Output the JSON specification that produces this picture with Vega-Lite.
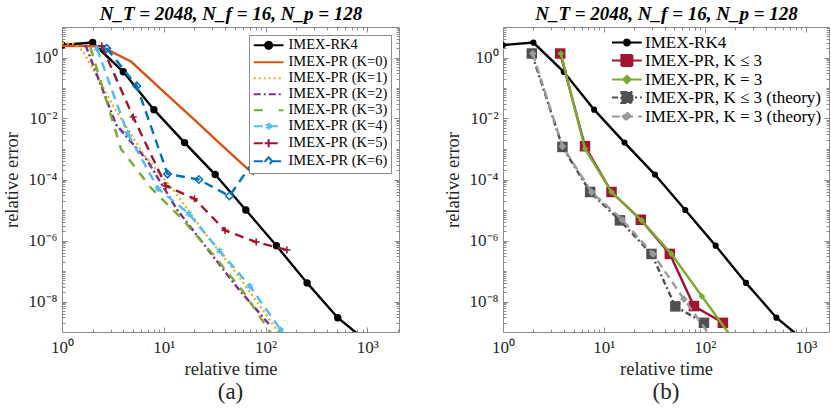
{
  "$schema": "https://vega.github.io/schema/vega-lite/v6.json",
  "padding": {"left": 1, "top": 4, "right": 0, "bottom": 0},
  "spacing": 42,
  "config": {
    "view": {"stroke": "#8c8c8c"},
    "axis": {"grid": false, "domain": false, "tickColor": "#8c8c8c", "labelFlush": false, "labelOverlap": false, "labelFont": "Liberation Serif", "labelFontSize": 17, "labelColor": "#262626", "titleFont": "Liberation Serif", "titleFontSize": 18.5, "titleFontWeight": "normal", "titleColor": "#262626", "minExtent": 0},
    "legend": {"labelFont": "Liberation Serif", "labelFontSize": 14.5, "labelColor": "#000000", "labelLimit": 300, "symbolSize": 100, "symbolStrokeWidth": 2, "rowPadding": 0},
    "title": {"font": "Liberation Serif", "fontSize": 23, "fontWeight": "normal", "color": "#262626"}
  },
  "datasets": {
    "left": [
      {"s": "IMEX-RK4", "x": 1, "y": 2.57}, {"s": "IMEX-RK4", "x": 2, "y": 3.09}, {"s": "IMEX-RK4", "x": 4, "y": 0.339}, {"s": "IMEX-RK4", "x": 8, "y": 0.0195}, {"s": "IMEX-RK4", "x": 16, "y": 0.00162}, {"s": "IMEX-RK4", "x": 32, "y": 0.000145}, {"s": "IMEX-RK4", "x": 64, "y": 1.0e-5}, {"s": "IMEX-RK4", "x": 128, "y": 6.76e-7}, {"s": "IMEX-RK4", "x": 256, "y": 4.07e-8}, {"s": "IMEX-RK4", "x": 512, "y": 2.95e-9}, {"s": "IMEX-RK4", "x": 1024, "y": 4.47e-10},
      {"s": "IMEX-PR (K=0)", "x": 1, "y": 2.4}, {"s": "IMEX-PR (K=0)", "x": 2.4, "y": 2.34}, {"s": "IMEX-PR (K=0)", "x": 4.8, "y": 0.724}, {"s": "IMEX-PR (K=0)", "x": 9.6, "y": 0.0851}, {"s": "IMEX-PR (K=0)", "x": 19.2, "y": 0.0102}, {"s": "IMEX-PR (K=0)", "x": 38.4, "y": 0.0012}, {"s": "IMEX-PR (K=0)", "x": 77, "y": 0.000145},
      {"s": "IMEX-PR (K=1)", "x": 1, "y": 2.95}, {"s": "IMEX-PR (K=1)", "x": 1.3, "y": 2.82}, {"s": "IMEX-PR (K=1)", "x": 1.6, "y": 1.66}, {"s": "IMEX-PR (K=1)", "x": 3.2, "y": 0.0251}, {"s": "IMEX-PR (K=1)", "x": 6.4, "y": 0.000631}, {"s": "IMEX-PR (K=1)", "x": 12.8, "y": 3.98e-5}, {"s": "IMEX-PR (K=1)", "x": 25.6, "y": 1.66e-6}, {"s": "IMEX-PR (K=1)", "x": 51.2, "y": 8.91e-8}, {"s": "IMEX-PR (K=1)", "x": 102.4, "y": 3.55e-9}, {"s": "IMEX-PR (K=1)", "x": 204.8, "y": 1.12e-10},
      {"s": "IMEX-PR (K=2)", "x": 1.7, "y": 2.57}, {"s": "IMEX-PR (K=2)", "x": 3.4, "y": 0.00631}, {"s": "IMEX-PR (K=2)", "x": 6.8, "y": 0.000447}, {"s": "IMEX-PR (K=2)", "x": 13.6, "y": 1.0e-5}, {"s": "IMEX-PR (K=2)", "x": 27.2, "y": 5.01e-7}, {"s": "IMEX-PR (K=2)", "x": 54.4, "y": 2.51e-8}, {"s": "IMEX-PR (K=2)", "x": 108.8, "y": 1.78e-9},
      {"s": "IMEX-PR (K=3)", "x": 1.9, "y": 2.14}, {"s": "IMEX-PR (K=3)", "x": 3.8, "y": 0.001}, {"s": "IMEX-PR (K=3)", "x": 7.6, "y": 5.01e-5}, {"s": "IMEX-PR (K=3)", "x": 15.2, "y": 5.01e-6}, {"s": "IMEX-PR (K=3)", "x": 30.4, "y": 3.55e-7}, {"s": "IMEX-PR (K=3)", "x": 60.8, "y": 2.0e-8}, {"s": "IMEX-PR (K=3)", "x": 121.6, "y": 6.31e-10},
      {"s": "IMEX-PR (K=4)", "x": 2.2, "y": 2.0}, {"s": "IMEX-PR (K=4)", "x": 4.4, "y": 0.00331}, {"s": "IMEX-PR (K=4)", "x": 8.8, "y": 5.01e-5}, {"s": "IMEX-PR (K=4)", "x": 17.6, "y": 7.59e-6}, {"s": "IMEX-PR (K=4)", "x": 35.2, "y": 4.68e-7}, {"s": "IMEX-PR (K=4)", "x": 70.4, "y": 3.16e-8}, {"s": "IMEX-PR (K=4)", "x": 140.8, "y": 1.17e-9},
      {"s": "IMEX-PR (K=5)", "x": 2.46, "y": 2.4}, {"s": "IMEX-PR (K=5)", "x": 5.0, "y": 0.0112}, {"s": "IMEX-PR (K=5)", "x": 10.5, "y": 6.17e-5}, {"s": "IMEX-PR (K=5)", "x": 20, "y": 2.34e-5}, {"s": "IMEX-PR (K=5)", "x": 40, "y": 2.14e-6}, {"s": "IMEX-PR (K=5)", "x": 81, "y": 8.91e-7}, {"s": "IMEX-PR (K=5)", "x": 162, "y": 4.9e-7},
      {"s": "IMEX-PR (K=6)", "x": 2.75, "y": 2.0}, {"s": "IMEX-PR (K=6)", "x": 5.43, "y": 0.117}, {"s": "IMEX-PR (K=6)", "x": 10.9, "y": 0.000151}, {"s": "IMEX-PR (K=6)", "x": 22.1, "y": 0.0001}, {"s": "IMEX-PR (K=6)", "x": 44.2, "y": 2.88e-5}, {"s": "IMEX-PR (K=6)", "x": 88, "y": 0.00079}
    ],
    "right": [
      {"s": "IMEX-RK4", "x": 1, "y": 2.57}, {"s": "IMEX-RK4", "x": 2, "y": 3.09}, {"s": "IMEX-RK4", "x": 4, "y": 0.339}, {"s": "IMEX-RK4", "x": 8, "y": 0.0195}, {"s": "IMEX-RK4", "x": 16, "y": 0.00162}, {"s": "IMEX-RK4", "x": 32, "y": 0.000145}, {"s": "IMEX-RK4", "x": 64, "y": 1.0e-5}, {"s": "IMEX-RK4", "x": 128, "y": 6.76e-7}, {"s": "IMEX-RK4", "x": 256, "y": 4.07e-8}, {"s": "IMEX-RK4", "x": 512, "y": 2.95e-9}, {"s": "IMEX-RK4", "x": 1024, "y": 4.47e-10},
      {"s": "IMEX-PR, K ≤ 3", "x": 3.69, "y": 1.35}, {"s": "IMEX-PR, K ≤ 3", "x": 6.5, "y": 0.00123}, {"s": "IMEX-PR, K ≤ 3", "x": 11.9, "y": 3.89e-5}, {"s": "IMEX-PR, K ≤ 3", "x": 23.2, "y": 4.79e-6}, {"s": "IMEX-PR, K ≤ 3", "x": 45, "y": 3.63e-7}, {"s": "IMEX-PR, K ≤ 3", "x": 78, "y": 7.08e-9}, {"s": "IMEX-PR, K ≤ 3", "x": 151, "y": 2.0e-9},
      {"s": "IMEX-PR, K = 3", "x": 3.74, "y": 1.35}, {"s": "IMEX-PR, K = 3", "x": 6.5, "y": 0.00102}, {"s": "IMEX-PR, K = 3", "x": 11.9, "y": 3.89e-5}, {"s": "IMEX-PR, K = 3", "x": 23.6, "y": 4.57e-6}, {"s": "IMEX-PR, K = 3", "x": 46.6, "y": 3.63e-7}, {"s": "IMEX-PR, K = 3", "x": 93.5, "y": 1.48e-8}, {"s": "IMEX-PR, K = 3", "x": 187, "y": 6.3e-10},
      {"s": "IMEX-PR, K ≤ 3 (theory)", "x": 1.93, "y": 1.35}, {"s": "IMEX-PR, K ≤ 3 (theory)", "x": 3.88, "y": 0.00117}, {"s": "IMEX-PR, K ≤ 3 (theory)", "x": 7.3, "y": 3.89e-5}, {"s": "IMEX-PR, K ≤ 3 (theory)", "x": 14.4, "y": 4.57e-6}, {"s": "IMEX-PR, K ≤ 3 (theory)", "x": 29.6, "y": 3.63e-7}, {"s": "IMEX-PR, K ≤ 3 (theory)", "x": 51, "y": 6.92e-9}, {"s": "IMEX-PR, K ≤ 3 (theory)", "x": 98, "y": 2.0e-9},
      {"s": "IMEX-PR, K = 3 (theory)", "x": 1.97, "y": 1.35}, {"s": "IMEX-PR, K = 3 (theory)", "x": 3.88, "y": 0.00123}, {"s": "IMEX-PR, K = 3 (theory)", "x": 7.55, "y": 3.89e-5}, {"s": "IMEX-PR, K = 3 (theory)", "x": 15.2, "y": 4.79e-6}, {"s": "IMEX-PR, K = 3 (theory)", "x": 30.6, "y": 3.63e-7}, {"s": "IMEX-PR, K = 3 (theory)", "x": 62, "y": 1.2e-8}, {"s": "IMEX-PR, K = 3 (theory)", "x": 124, "y": 5.0e-10}
    ]
  },
  "resolve": {"scale": {"x": "independent", "y": "independent", "stroke": "independent", "fill": "independent", "shape": "independent", "strokeDash": "independent"}},
  "hconcat": [
    {
      "width": 337, "height": 305,
      "data": {"name": "left"},
      "title": {"text": "(a)", "orient": "bottom", "frame": "group", "offset": 3},
      "resolve": {"axis": {"x": "independent", "y": "independent"}},
      "layer": [
        {
          "transform": [{"filter": "datum.s == 'IMEX-RK4'"}],
          "mark": {"type": "line", "color": "#000000", "strokeWidth": 2.4, "clip": true},
          "encoding": {
            "x": {"field": "x", "type": "quantitative", "scale": {"type": "log", "domain": [1, 2048], "nice": false}, "axis": {"orient": "bottom", "values": [1, 10, 100, 1000], "labelExpr": "datum.value == 1 ? '10⁰' : datum.value == 10 ? '10¹' : datum.value == 100 ? '10²' : '10³'", "tickSize": -5, "labelPadding": 12, "title": "relative time", "titlePadding": 4}},
            "y": {"field": "y", "type": "quantitative", "scale": {"type": "log", "domain": [1e-9, 10], "nice": false}, "axis": {"orient": "left", "values": [1e-8, 1e-6, 0.0001, 0.01, 1], "labelExpr": "datum.value == 1 ? '10⁰' : datum.value == 0.01 ? '10⁻²' : datum.value == 0.0001 ? '10⁻⁴' : datum.value == 0.000001 ? '10⁻⁶' : '10⁻⁸'", "tickSize": -5, "labelPadding": 10, "title": "relative error", "titlePadding": 7}}
          }
        },
        {
          "transform": [{"filter": "datum.s == 'IMEX-RK4'"}],
          "mark": {"type": "point", "shape": "circle", "filled": true, "color": "#000000", "size": 55, "opacity": 1, "clip": true},
          "encoding": {
            "x": {"field": "x", "type": "quantitative", "scale": {"type": "log", "domain": [1, 2048], "nice": false}, "axis": {"orient": "bottom", "values": [2, 3, 4, 5, 6, 7, 8, 9, 20, 30, 40, 50, 60, 70, 80, 90, 200, 300, 400, 500, 600, 700, 800, 900, 2000], "labels": false, "tickSize": -3, "title": null}},
            "y": {"field": "y", "type": "quantitative", "scale": {"type": "log", "domain": [1e-9, 10], "nice": false}, "axis": {"orient": "left", "values": [2e-9, 3e-9, 4e-9, 5e-9, 6e-9, 7e-9, 8e-9, 9e-9, 2e-8, 3e-8, 4e-8, 5e-8, 6e-8, 7e-8, 8e-8, 9e-8, 1e-7, 2e-7, 3e-7, 4e-7, 5e-7, 6e-7, 7e-7, 8e-7, 9e-7, 2e-6, 3e-6, 4e-6, 5e-6, 6e-6, 7e-6, 8e-6, 9e-6, 1e-5, 2e-5, 3e-5, 4e-5, 5e-5, 6e-5, 7e-5, 8e-5, 9e-5, 2e-4, 3e-4, 4e-4, 5e-4, 6e-4, 7e-4, 8e-4, 9e-4, 1e-3, 2e-3, 3e-3, 4e-3, 5e-3, 6e-3, 7e-3, 8e-3, 9e-3, 0.02, 0.03, 0.04, 0.05, 0.06, 0.07, 0.08, 0.09, 0.1, 0.2, 0.3, 0.4, 0.5, 0.6, 0.7, 0.8, 0.9, 2, 3, 4, 5, 6, 7, 8, 9], "labels": false, "tickSize": -3, "title": null}}
          }
        },
        {
          "transform": [{"filter": "datum.s == 'IMEX-PR (K=0)'"}],
          "mark": {"type": "line", "color": "#D95319", "strokeWidth": 2.4, "clip": true},
          "encoding": {
            "x": {"field": "x", "type": "quantitative", "scale": {"type": "log", "domain": [1, 2048], "nice": false}, "axis": {"orient": "top", "values": [1, 10, 100, 1000], "labels": false, "tickSize": -5, "title": "N_T = 2048, N_f = 16, N_p = 128", "titleFontSize": 19, "titleFontWeight": "bold", "titleFontStyle": "italic", "titleColor": "#000000", "titlePadding": 3}},
            "y": {"field": "y", "type": "quantitative", "scale": {"type": "log", "domain": [1e-9, 10], "nice": false}, "axis": {"orient": "right", "values": [1e-8, 1e-6, 0.0001, 0.01, 1], "labels": false, "tickSize": -5, "title": null}}
          }
        },
        {
          "transform": [{"filter": "datum.s == 'IMEX-PR (K=1)'"}],
          "mark": {"type": "line", "color": "#EDB120", "strokeWidth": 2.4, "strokeDash": [2, 3], "clip": true},
          "encoding": {
            "x": {"field": "x", "type": "quantitative", "scale": {"type": "log", "domain": [1, 2048], "nice": false}, "axis": {"orient": "top", "values": [2, 3, 4, 5, 6, 7, 8, 9, 20, 30, 40, 50, 60, 70, 80, 90, 200, 300, 400, 500, 600, 700, 800, 900, 2000], "labels": false, "tickSize": -3, "title": null}},
            "y": {"field": "y", "type": "quantitative", "scale": {"type": "log", "domain": [1e-9, 10], "nice": false}, "axis": {"orient": "right", "values": [2e-9, 3e-9, 4e-9, 5e-9, 6e-9, 7e-9, 8e-9, 9e-9, 2e-8, 3e-8, 4e-8, 5e-8, 6e-8, 7e-8, 8e-8, 9e-8, 1e-7, 2e-7, 3e-7, 4e-7, 5e-7, 6e-7, 7e-7, 8e-7, 9e-7, 2e-6, 3e-6, 4e-6, 5e-6, 6e-6, 7e-6, 8e-6, 9e-6, 1e-5, 2e-5, 3e-5, 4e-5, 5e-5, 6e-5, 7e-5, 8e-5, 9e-5, 2e-4, 3e-4, 4e-4, 5e-4, 6e-4, 7e-4, 8e-4, 9e-4, 1e-3, 2e-3, 3e-3, 4e-3, 5e-3, 6e-3, 7e-3, 8e-3, 9e-3, 0.02, 0.03, 0.04, 0.05, 0.06, 0.07, 0.08, 0.09, 0.1, 0.2, 0.3, 0.4, 0.5, 0.6, 0.7, 0.8, 0.9, 2, 3, 4, 5, 6, 7, 8, 9], "labels": false, "tickSize": -3, "title": null}}
          }
        },
        {
          "transform": [{"filter": "datum.s == 'IMEX-PR (K=2)'"}],
          "mark": {"type": "line", "color": "#7E2F8E", "strokeWidth": 2.4, "strokeDash": [7, 3, 2, 3], "clip": true},
          "encoding": {
            "x": {"field": "x", "type": "quantitative", "scale": {"type": "log", "domain": [1, 2048], "nice": false}, "axis": null},
            "y": {"field": "y", "type": "quantitative", "scale": {"type": "log", "domain": [1e-9, 10], "nice": false}, "axis": null}
          }
        },
        {
          "transform": [{"filter": "datum.s == 'IMEX-PR (K=3)'"}],
          "mark": {"type": "line", "color": "#77AC30", "strokeWidth": 2.4, "strokeDash": [9, 8], "clip": true},
          "encoding": {
            "x": {"field": "x", "type": "quantitative", "scale": {"type": "log", "domain": [1, 2048], "nice": false}, "axis": null},
            "y": {"field": "y", "type": "quantitative", "scale": {"type": "log", "domain": [1e-9, 10], "nice": false}, "axis": null}
          }
        },
        {
          "transform": [{"filter": "datum.s == 'IMEX-PR (K=4)'"}],
          "mark": {"type": "line", "color": "#4DBEEE", "strokeWidth": 2.4, "strokeDash": [9, 6], "clip": true},
          "encoding": {
            "x": {"field": "x", "type": "quantitative", "scale": {"type": "log", "domain": [1, 2048], "nice": false}, "axis": null},
            "y": {"field": "y", "type": "quantitative", "scale": {"type": "log", "domain": [1e-9, 10], "nice": false}, "axis": null}
          }
        },
        {
          "transform": [{"filter": "datum.s == 'IMEX-PR (K=4)'"}],
          "mark": {"type": "point", "shape": "M0,-1V1M-0.87,-0.5L0.87,0.5M-0.87,0.5L0.87,-0.5", "filled": false, "color": "#4DBEEE", "size": 45, "strokeWidth": 1.6, "opacity": 1, "clip": true},
          "encoding": {
            "x": {"field": "x", "type": "quantitative", "scale": {"type": "log", "domain": [1, 2048], "nice": false}, "axis": null},
            "y": {"field": "y", "type": "quantitative", "scale": {"type": "log", "domain": [1e-9, 10], "nice": false}, "axis": null}
          }
        },
        {
          "transform": [{"filter": "datum.s == 'IMEX-PR (K=5)'"}],
          "mark": {"type": "line", "color": "#A2142F", "strokeWidth": 2.4, "strokeDash": [9, 6], "clip": true},
          "encoding": {
            "x": {"field": "x", "type": "quantitative", "scale": {"type": "log", "domain": [1, 2048], "nice": false}, "axis": null},
            "y": {"field": "y", "type": "quantitative", "scale": {"type": "log", "domain": [1e-9, 10], "nice": false}, "axis": null}
          }
        },
        {
          "transform": [{"filter": "datum.s == 'IMEX-PR (K=5)'"}],
          "mark": {"type": "point", "shape": "M0,-1V1M-1,0H1", "filled": false, "color": "#A2142F", "size": 50, "strokeWidth": 1.6, "opacity": 1, "clip": true},
          "encoding": {
            "x": {"field": "x", "type": "quantitative", "scale": {"type": "log", "domain": [1, 2048], "nice": false}, "axis": null},
            "y": {"field": "y", "type": "quantitative", "scale": {"type": "log", "domain": [1e-9, 10], "nice": false}, "axis": null}
          }
        },
        {
          "transform": [{"filter": "datum.s == 'IMEX-PR (K=6)'"}],
          "mark": {"type": "line", "color": "#0072BD", "strokeWidth": 2.4, "strokeDash": [9, 6], "clip": true},
          "encoding": {
            "x": {"field": "x", "type": "quantitative", "scale": {"type": "log", "domain": [1, 2048], "nice": false}, "axis": null},
            "y": {"field": "y", "type": "quantitative", "scale": {"type": "log", "domain": [1e-9, 10], "nice": false}, "axis": null}
          }
        },
        {
          "transform": [{"filter": "datum.s == 'IMEX-PR (K=6)'"}],
          "mark": {"type": "point", "shape": "diamond", "filled": false, "color": "#0072BD", "size": 55, "strokeWidth": 1.6, "opacity": 1, "clip": true},
          "encoding": {
            "x": {"field": "x", "type": "quantitative", "scale": {"type": "log", "domain": [1, 2048], "nice": false}, "axis": null},
            "y": {"field": "y", "type": "quantitative", "scale": {"type": "log", "domain": [1e-9, 10], "nice": false}, "axis": null}
          }
        },
        {
          "transform": [{"filter": "false"}],
          "mark": {"type": "point", "filled": true, "strokeWidth": 2, "size": 100, "opacity": 1},
          "encoding": {
            "x": {"field": "x", "type": "quantitative", "scale": {"type": "log", "domain": [1, 2048], "nice": false}, "axis": null},
            "y": {"field": "y", "type": "quantitative", "scale": {"type": "log", "domain": [1e-9, 10], "nice": false}, "axis": null},
            "stroke": {"field": "s", "type": "nominal",
              "scale": {"domain": ["IMEX-RK4", "IMEX-PR (K=0)", "IMEX-PR (K=1)", "IMEX-PR (K=2)", "IMEX-PR (K=3)", "IMEX-PR (K=4)", "IMEX-PR (K=5)", "IMEX-PR (K=6)"], "range": ["#000000", "#D95319", "#EDB120", "#7E2F8E", "#77AC30", "#4DBEEE", "#A2142F", "#0072BD"]},
              "legend": {"title": null, "orient": "top-right", "offset": 8, "padding": 3, "strokeColor": "#8c8c8c", "fillColor": "#ffffff", "labelOffset": 22, "rowPadding": 1, "symbolOpacity": 1}},
            "fill": {"field": "s", "type": "nominal",
              "scale": {"domain": ["IMEX-RK4", "IMEX-PR (K=0)", "IMEX-PR (K=1)", "IMEX-PR (K=2)", "IMEX-PR (K=3)", "IMEX-PR (K=4)", "IMEX-PR (K=5)", "IMEX-PR (K=6)"], "range": ["#000000", "transparent", "transparent", "transparent", "transparent", "transparent", "transparent", "#ffffff"]}},
            "shape": {"field": "s", "type": "nominal",
              "scale": {"domain": ["IMEX-RK4", "IMEX-PR (K=0)", "IMEX-PR (K=1)", "IMEX-PR (K=2)", "IMEX-PR (K=3)", "IMEX-PR (K=4)", "IMEX-PR (K=5)", "IMEX-PR (K=6)"], "range": ["M-1.1,0H4.86M1.18,0A0.7,0.7 0 1,0 2.58,0A0.7,0.7 0 1,0 1.18,0", "M-1.1,0H4.86", "M-1.1,0H4.86", "M-1.1,0H4.86", "M-1.1,0H4.86", "M-1.1,0H4.86M1.88,-0.7V0.7M1.27,-0.35L2.49,0.35M1.27,0.35L2.49,-0.35", "M-1.1,0H4.86M1.88,-0.8V0.8M1.08,0H2.68", "M-1.1,0H1.18M2.58,0H4.86M1.88,-0.8L2.58,0L1.88,0.8L1.18,0Z"]}},
            "strokeDash": {"field": "s", "type": "nominal",
              "scale": {"domain": ["IMEX-RK4", "IMEX-PR (K=0)", "IMEX-PR (K=1)", "IMEX-PR (K=2)", "IMEX-PR (K=3)", "IMEX-PR (K=4)", "IMEX-PR (K=5)", "IMEX-PR (K=6)"], "range": [[1, 0], [1, 0], [2, 3], [7, 3, 2, 3], [9, 16], [9, 6], [9, 6], [9, 6]]}}
          }
        }
      ]
    },
    {
      "width": 326, "height": 305,
      "data": {"name": "right"},
      "title": {"text": "(b)", "orient": "bottom", "frame": "group", "offset": 3},
      "resolve": {"axis": {"x": "independent", "y": "independent"}},
      "layer": [
        {
          "transform": [{"filter": "datum.s == 'IMEX-RK4'"}],
          "mark": {"type": "line", "color": "#000000", "strokeWidth": 2.4, "clip": true},
          "encoding": {
            "x": {"field": "x", "type": "quantitative", "scale": {"type": "log", "domain": [1, 1700], "nice": false}, "axis": {"orient": "bottom", "values": [1, 10, 100, 1000], "labelExpr": "datum.value == 1 ? '10⁰' : datum.value == 10 ? '10¹' : datum.value == 100 ? '10²' : '10³'", "tickSize": -5, "labelPadding": 12, "title": "relative time", "titlePadding": 4}},
            "y": {"field": "y", "type": "quantitative", "scale": {"type": "log", "domain": [1e-9, 10], "nice": false}, "axis": {"orient": "left", "values": [1e-8, 1e-6, 0.0001, 0.01, 1], "labelExpr": "datum.value == 1 ? '10⁰' : datum.value == 0.01 ? '10⁻²' : datum.value == 0.0001 ? '10⁻⁴' : datum.value == 0.000001 ? '10⁻⁶' : '10⁻⁸'", "tickSize": -5, "labelPadding": 10, "title": "relative error", "titlePadding": 7}}
          }
        },
        {
          "transform": [{"filter": "datum.s == 'IMEX-RK4'"}],
          "mark": {"type": "point", "shape": "circle", "filled": true, "color": "#000000", "size": 38, "opacity": 1, "clip": true},
          "encoding": {
            "x": {"field": "x", "type": "quantitative", "scale": {"type": "log", "domain": [1, 1700], "nice": false}, "axis": {"orient": "bottom", "values": [2, 3, 4, 5, 6, 7, 8, 9, 20, 30, 40, 50, 60, 70, 80, 90, 200, 300, 400, 500, 600, 700, 800, 900], "labels": false, "tickSize": -3, "title": null}},
            "y": {"field": "y", "type": "quantitative", "scale": {"type": "log", "domain": [1e-9, 10], "nice": false}, "axis": {"orient": "left", "values": [2e-9, 3e-9, 4e-9, 5e-9, 6e-9, 7e-9, 8e-9, 9e-9, 2e-8, 3e-8, 4e-8, 5e-8, 6e-8, 7e-8, 8e-8, 9e-8, 1e-7, 2e-7, 3e-7, 4e-7, 5e-7, 6e-7, 7e-7, 8e-7, 9e-7, 2e-6, 3e-6, 4e-6, 5e-6, 6e-6, 7e-6, 8e-6, 9e-6, 1e-5, 2e-5, 3e-5, 4e-5, 5e-5, 6e-5, 7e-5, 8e-5, 9e-5, 2e-4, 3e-4, 4e-4, 5e-4, 6e-4, 7e-4, 8e-4, 9e-4, 1e-3, 2e-3, 3e-3, 4e-3, 5e-3, 6e-3, 7e-3, 8e-3, 9e-3, 0.02, 0.03, 0.04, 0.05, 0.06, 0.07, 0.08, 0.09, 0.1, 0.2, 0.3, 0.4, 0.5, 0.6, 0.7, 0.8, 0.9, 2, 3, 4, 5, 6, 7, 8, 9], "labels": false, "tickSize": -3, "title": null}}
          }
        },
        {
          "transform": [{"filter": "datum.s == 'IMEX-PR, K ≤ 3'"}],
          "mark": {"type": "line", "color": "#A2142F", "strokeWidth": 2.4, "clip": true},
          "encoding": {
            "x": {"field": "x", "type": "quantitative", "scale": {"type": "log", "domain": [1, 1700], "nice": false}, "axis": {"orient": "top", "values": [1, 10, 100, 1000], "labels": false, "tickSize": -5, "title": "N_T = 2048, N_f = 16, N_p = 128", "titleFontSize": 19, "titleFontWeight": "bold", "titleFontStyle": "italic", "titleColor": "#000000", "titlePadding": 3}},
            "y": {"field": "y", "type": "quantitative", "scale": {"type": "log", "domain": [1e-9, 10], "nice": false}, "axis": {"orient": "right", "values": [1e-8, 1e-6, 0.0001, 0.01, 1], "labels": false, "tickSize": -5, "title": null}}
          }
        },
        {
          "transform": [{"filter": "datum.s == 'IMEX-PR, K ≤ 3'"}],
          "mark": {"type": "point", "shape": "square", "filled": true, "color": "#A2142F", "size": 110, "opacity": 1, "clip": true},
          "encoding": {
            "x": {"field": "x", "type": "quantitative", "scale": {"type": "log", "domain": [1, 1700], "nice": false}, "axis": {"orient": "top", "values": [2, 3, 4, 5, 6, 7, 8, 9, 20, 30, 40, 50, 60, 70, 80, 90, 200, 300, 400, 500, 600, 700, 800, 900], "labels": false, "tickSize": -3, "title": null}},
            "y": {"field": "y", "type": "quantitative", "scale": {"type": "log", "domain": [1e-9, 10], "nice": false}, "axis": {"orient": "right", "values": [2e-9, 3e-9, 4e-9, 5e-9, 6e-9, 7e-9, 8e-9, 9e-9, 2e-8, 3e-8, 4e-8, 5e-8, 6e-8, 7e-8, 8e-8, 9e-8, 1e-7, 2e-7, 3e-7, 4e-7, 5e-7, 6e-7, 7e-7, 8e-7, 9e-7, 2e-6, 3e-6, 4e-6, 5e-6, 6e-6, 7e-6, 8e-6, 9e-6, 1e-5, 2e-5, 3e-5, 4e-5, 5e-5, 6e-5, 7e-5, 8e-5, 9e-5, 2e-4, 3e-4, 4e-4, 5e-4, 6e-4, 7e-4, 8e-4, 9e-4, 1e-3, 2e-3, 3e-3, 4e-3, 5e-3, 6e-3, 7e-3, 8e-3, 9e-3, 0.02, 0.03, 0.04, 0.05, 0.06, 0.07, 0.08, 0.09, 0.1, 0.2, 0.3, 0.4, 0.5, 0.6, 0.7, 0.8, 0.9, 2, 3, 4, 5, 6, 7, 8, 9], "labels": false, "tickSize": -3, "title": null}}
          }
        },
        {
          "transform": [{"filter": "datum.s == 'IMEX-PR, K = 3'"}],
          "mark": {"type": "line", "color": "#77AC30", "strokeWidth": 2.4, "clip": true},
          "encoding": {
            "x": {"field": "x", "type": "quantitative", "scale": {"type": "log", "domain": [1, 1700], "nice": false}, "axis": null},
            "y": {"field": "y", "type": "quantitative", "scale": {"type": "log", "domain": [1e-9, 10], "nice": false}, "axis": null}
          }
        },
        {
          "transform": [{"filter": "datum.s == 'IMEX-PR, K = 3'"}],
          "mark": {"type": "point", "shape": "diamond", "filled": true, "color": "#77AC30", "size": 45, "opacity": 1, "clip": true},
          "encoding": {
            "x": {"field": "x", "type": "quantitative", "scale": {"type": "log", "domain": [1, 1700], "nice": false}, "axis": null},
            "y": {"field": "y", "type": "quantitative", "scale": {"type": "log", "domain": [1e-9, 10], "nice": false}, "axis": null}
          }
        },
        {
          "transform": [{"filter": "datum.s == 'IMEX-PR, K ≤ 3 (theory)'"}],
          "mark": {"type": "line", "color": "#505050", "strokeWidth": 2.4, "strokeDash": [6, 3, 2, 3], "clip": true},
          "encoding": {
            "x": {"field": "x", "type": "quantitative", "scale": {"type": "log", "domain": [1, 1700], "nice": false}, "axis": null},
            "y": {"field": "y", "type": "quantitative", "scale": {"type": "log", "domain": [1e-9, 10], "nice": false}, "axis": null}
          }
        },
        {
          "transform": [{"filter": "datum.s == 'IMEX-PR, K ≤ 3 (theory)'"}],
          "mark": {"type": "point", "shape": "square", "filled": true, "color": "#505050", "size": 110, "opacity": 1, "clip": true},
          "encoding": {
            "x": {"field": "x", "type": "quantitative", "scale": {"type": "log", "domain": [1, 1700], "nice": false}, "axis": null},
            "y": {"field": "y", "type": "quantitative", "scale": {"type": "log", "domain": [1e-9, 10], "nice": false}, "axis": null}
          }
        },
        {
          "transform": [{"filter": "datum.s == 'IMEX-PR, K = 3 (theory)'"}],
          "mark": {"type": "line", "color": "#9a9a9a", "strokeWidth": 2.4, "strokeDash": [8, 5], "clip": true},
          "encoding": {
            "x": {"field": "x", "type": "quantitative", "scale": {"type": "log", "domain": [1, 1700], "nice": false}, "axis": null},
            "y": {"field": "y", "type": "quantitative", "scale": {"type": "log", "domain": [1e-9, 10], "nice": false}, "axis": null}
          }
        },
        {
          "transform": [{"filter": "datum.s == 'IMEX-PR, K = 3 (theory)'"}],
          "mark": {"type": "point", "shape": "diamond", "filled": true, "color": "#9a9a9a", "size": 60, "opacity": 1, "clip": true},
          "encoding": {
            "x": {"field": "x", "type": "quantitative", "scale": {"type": "log", "domain": [1, 1700], "nice": false}, "axis": null},
            "y": {"field": "y", "type": "quantitative", "scale": {"type": "log", "domain": [1e-9, 10], "nice": false}, "axis": null}
          }
        },
        {
          "transform": [{"filter": "false"}],
          "mark": {"type": "point", "filled": true, "strokeWidth": 2, "size": 100, "opacity": 1},
          "encoding": {
            "x": {"field": "x", "type": "quantitative", "scale": {"type": "log", "domain": [1, 1700], "nice": false}, "axis": null},
            "y": {"field": "y", "type": "quantitative", "scale": {"type": "log", "domain": [1e-9, 10], "nice": false}, "axis": null},
            "stroke": {"field": "s", "type": "nominal",
              "scale": {"domain": ["IMEX-RK4", "IMEX-PR, K ≤ 3", "IMEX-PR, K = 3", "IMEX-PR, K ≤ 3 (theory)", "IMEX-PR, K = 3 (theory)"], "range": ["#000000", "#A2142F", "#77AC30", "#505050", "#9a9a9a"]},
              "legend": {"title": null, "orient": "top-right", "offset": 0, "padding": 7, "labelOffset": 19, "rowPadding": 0, "labelFontSize": 17, "labelLimit": 300, "symbolOpacity": 1}},
            "fill": {"field": "s", "type": "nominal",
              "scale": {"domain": ["IMEX-RK4", "IMEX-PR, K ≤ 3", "IMEX-PR, K = 3", "IMEX-PR, K ≤ 3 (theory)", "IMEX-PR, K = 3 (theory)"], "range": ["#000000", "#A2142F", "#77AC30", "#505050", "#9a9a9a"]}},
            "shape": {"field": "s", "type": "nominal",
              "scale": {"domain": ["IMEX-RK4", "IMEX-PR, K ≤ 3", "IMEX-PR, K = 3", "IMEX-PR, K ≤ 3 (theory)", "IMEX-PR, K = 3 (theory)"], "range": ["M-1.1,0H4.86M1.28,0A0.6,0.6 0 1,0 2.48,0A0.6,0.6 0 1,0 1.28,0", "M-1.1,0H4.86M0.78,-1.1H2.98V1.1H0.78Z", "M-1.1,0H4.86M1.88,-0.75L2.63,0L1.88,0.75L1.13,0Z", "M-1.1,0H4.86M0.78,-1.1H2.98V1.1H0.78Z", "M-1.1,0H4.86M1.88,-0.85L2.73,0L1.88,0.85L1.03,0Z"]}},
            "strokeDash": {"field": "s", "type": "nominal",
              "scale": {"domain": ["IMEX-RK4", "IMEX-PR, K ≤ 3", "IMEX-PR, K = 3", "IMEX-PR, K ≤ 3 (theory)", "IMEX-PR, K = 3 (theory)"], "range": [[1, 0], [1, 0], [1, 0], [6, 3, 2, 3], [8, 5]]}}
          }
        }
      ]
    }
  ]
}
